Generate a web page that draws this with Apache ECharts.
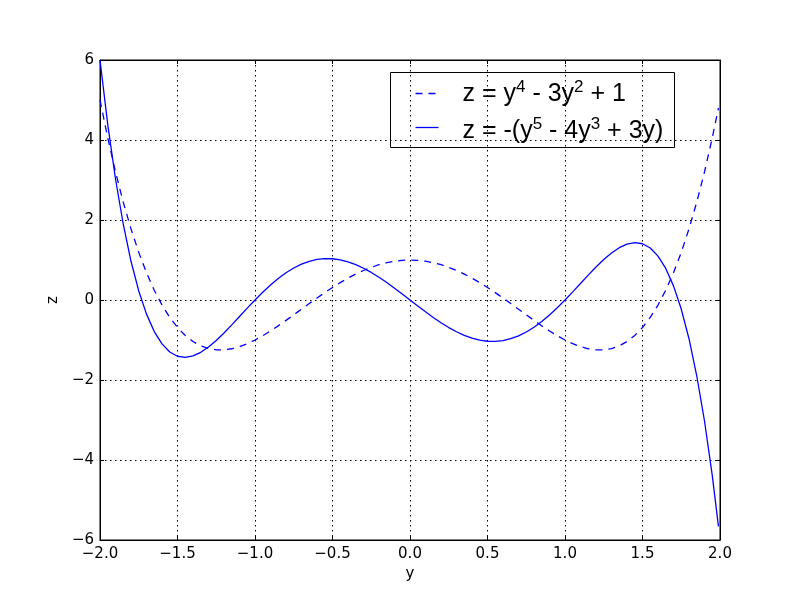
<!DOCTYPE html>
<html>
<head>
<meta charset="utf-8">
<script src="https://cdn.jsdelivr.net/npm/echarts@6/dist/echarts.min.js"></script>
<style>
  html, body { margin: 0; padding: 0; background: #fff; }
  #chart { width: 800px; height: 600px; }
</style>
</head>
<body>
<div id="chart"></div>
<script>
// y values sampled along the curves
const ys = [-2.00, -1.95, -1.90, -1.85, -1.80, -1.75, -1.70, -1.65, -1.60, -1.55,
  -1.50, -1.45, -1.40, -1.35, -1.30, -1.25, -1.20, -1.15, -1.10, -1.05,
  -1.00, -0.95, -0.90, -0.85, -0.80, -0.75, -0.70, -0.65, -0.60, -0.55,
  -0.50, -0.45, -0.40, -0.35, -0.30, -0.25, -0.20, -0.15, -0.10, -0.05,
  0.00, 0.05, 0.10, 0.15, 0.20, 0.25, 0.30, 0.35, 0.40, 0.45,
  0.50, 0.55, 0.60, 0.65, 0.70, 0.75, 0.80, 0.85, 0.90, 0.95,
  1.00, 1.05, 1.10, 1.15, 1.20, 1.25, 1.30, 1.35, 1.40, 1.45,
  1.50, 1.55, 1.60, 1.65, 1.70, 1.75, 1.80, 1.85, 1.90, 1.95, 1.99];
// dashed curve: z = y^4 - 3y^2 + 1
const dashedZ = [5.0, 4.052, 3.202, 2.446, 1.778, 1.191, 0.682, 0.245, -0.126, -0.436,
  -0.688, -0.887, -1.038, -1.146, -1.214, -1.246, -1.246, -1.219, -1.166, -1.092,
  -1.0, -0.893, -0.774, -0.646, -0.510, -0.371, -0.230, -0.089, 0.050, 0.184,
  0.313, 0.434, 0.546, 0.648, 0.738, 0.816, 0.882, 0.933, 0.970, 0.993,
  1.0, 0.993, 0.970, 0.933, 0.882, 0.816, 0.738, 0.648, 0.546, 0.434,
  0.313, 0.184, 0.050, -0.089, -0.230, -0.371, -0.510, -0.646, -0.774, -0.893,
  -1.0, -1.092, -1.166, -1.219, -1.246, -1.246, -1.214, -1.146, -1.038, -0.887,
  -0.688, -0.436, -0.126, 0.245, 0.682, 1.191, 1.778, 2.446, 3.202, 4.052, 4.80];
// solid curve: z = -(y^5 - 4y^3 + 3y)
const solidZ = [6.0, 4.386, 3.025, 1.894, 0.968, 0.226, -0.353, -0.789, -1.098, -1.299,
  -1.406, -1.435, -1.398, -1.308, -1.175, -1.011, -0.824, -0.622, -0.413, -0.204,
  0.0, 0.194, 0.374, 0.537, 0.680, 0.800, 0.896, 0.968, 1.014, 1.035,
  1.031, 1.004, 0.954, 0.884, 0.794, 0.689, 0.568, 0.437, 0.296, 0.150,
  0.0, -0.150, -0.296, -0.437, -0.568, -0.689, -0.794, -0.884, -0.954, -1.004,
  -1.031, -1.035, -1.014, -0.968, -0.896, -0.800, -0.680, -0.537, -0.374, -0.194,
  0.0, 0.204, 0.413, 0.622, 0.824, 1.011, 1.175, 1.308, 1.398, 1.435,
  1.406, 1.299, 1.098, 0.789, 0.353, -0.226, -0.968, -1.894, -3.025, -4.386, -5.66];
const xTicks = [-2.0, -1.5, -1.0, -0.5, 0.0, 0.5, 1.0, 1.5, 2.0];
const zTicks = [-6, -4, -2, 0, 2, 4, 6];

const myChart = echarts.init(document.getElementById("chart"));
const tickFont = { fontFamily: "DejaVu Sans", fontSize: 15, color: "#000" };
const gridLine = { show: true, lineStyle: { color: "#000", width: 1, type: [1.5, 3.5] } };
const minus = (s) => s.replace("-", "\u2212");
const legendRich = {
  n: { fontFamily: "Liberation Sans", fontSize: 25, color: "#000", verticalAlign: "bottom" },
  s: { fontFamily: "Liberation Sans", fontSize: 17, color: "#000", verticalAlign: "bottom", padding: [0, 0, 11, 0] },
};

const option = {
  backgroundColor: "#fff",
  animation: false,
  grid: { left: 100, right: 80, top: 60, bottom: 60, show: true, borderColor: "#000", borderWidth: 1 },
  xAxis: [
    {
      type: "value",
      min: xTicks[0],
      max: xTicks[xTicks.length - 1],
      interval: 0.5,
      name: "y",
      nameLocation: "middle",
      nameGap: 24,
      nameTextStyle: tickFont,
      axisLine: { show: true, onZero: false, lineStyle: { color: "#000", width: 1 } },
      axisTick: { show: true, inside: true, length: 4, lineStyle: { color: "#000" } },
      axisLabel: Object.assign({ margin: 7, formatter: (v) => minus(v.toFixed(1)) }, tickFont),
      splitLine: gridLine,
    },
    {
      type: "value",
      position: "top",
      min: xTicks[0],
      max: xTicks[xTicks.length - 1],
      interval: 0.5,
      axisLine: { show: true, onZero: false, lineStyle: { color: "#000", width: 1 } },
      axisTick: { show: true, inside: true, length: 4, lineStyle: { color: "#000" } },
      axisLabel: { show: false },
      splitLine: { show: false },
    },
  ],
  yAxis: [
    {
      type: "value",
      min: zTicks[0],
      max: zTicks[zTicks.length - 1],
      interval: 2,
      name: "z",
      nameLocation: "middle",
      nameGap: 37,
      nameTextStyle: tickFont,
      axisLine: { show: true, onZero: false, lineStyle: { color: "#000", width: 1 } },
      axisTick: { show: true, inside: true, length: 4, lineStyle: { color: "#000" } },
      axisLabel: Object.assign({ margin: 6, formatter: (v) => minus(String(v)) }, tickFont),
      splitLine: gridLine,
    },
    {
      type: "value",
      position: "right",
      min: zTicks[0],
      max: zTicks[zTicks.length - 1],
      interval: 2,
      axisLine: { show: true, onZero: false, lineStyle: { color: "#000", width: 1 } },
      axisTick: { show: true, inside: true, length: 4, lineStyle: { color: "#000" } },
      axisLabel: { show: false },
      splitLine: { show: false },
    },
  ],
  series: [
    {
      name: "dashed",
      type: "line",
      data: ys.map((y, i) => [y, dashedZ[i]]),
      symbol: "none",
      smooth: false,
      lineStyle: { color: "#0000ff", width: 1.3, type: [7, 6] },
    },
    {
      name: "solid",
      type: "line",
      data: ys.map((y, i) => [y, solidZ[i]]),
      symbol: "none",
      smooth: false,
      lineStyle: { color: "#0000ff", width: 1.3 },
    },
  ],
  graphic: [
    {
      type: "group",
      left: 390,
      top: 72,
      children: [
        {
          type: "rect",
          shape: { x: 0, y: 0, width: 284, height: 75 },
          style: { fill: "#fff", stroke: "#000", lineWidth: 1 },
        },
        {
          type: "line",
          shape: { x1: 25, y1: 21, x2: 48, y2: 21 },
          style: { stroke: "#0000ff", lineWidth: 1.3, lineDash: [7, 6] },
        },
        {
          type: "line",
          shape: { x1: 25, y1: 55, x2: 48, y2: 55 },
          style: { stroke: "#0000ff", lineWidth: 1.3 },
        },
        {
          type: "text",
          x: 72,
          y: 20,
          style: {
            text: "{n|z = y}{s|4}{n| - 3y}{s|2}{n| + 1}",
            verticalAlign: "middle",
            rich: legendRich,
          },
        },
        {
          type: "text",
          x: 72,
          y: 57,
          style: {
            text: "{n|z = -(y}{s|5}{n| - 4y}{s|3}{n| + 3y)}",
            verticalAlign: "middle",
            rich: legendRich,
          },
        },
      ],
    },
  ],
};
myChart.setOption(option);
</script>
</body>
</html>
